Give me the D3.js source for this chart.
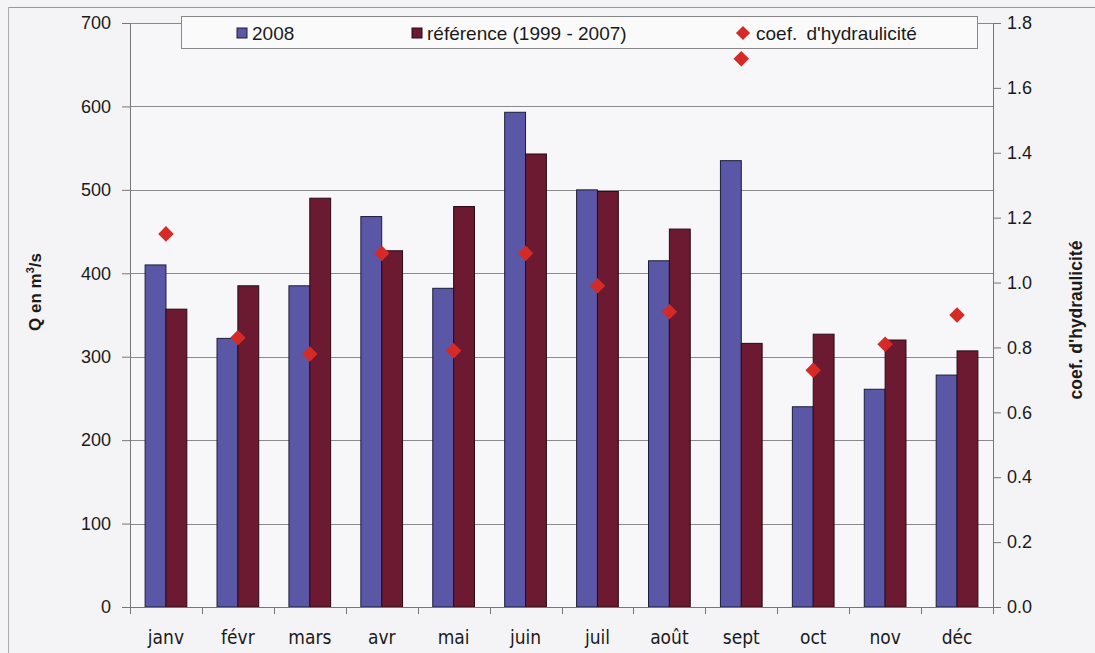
<!DOCTYPE html>
<html><head><meta charset="utf-8">
<script src="https://cdn.jsdelivr.net/npm/d3@7"></script>
<style>
body{margin:0;background:#f4f4f6;}
svg{display:block;font-family:"Liberation Sans",Arial,sans-serif;}
</style></head>
<body><svg id="c" width="1095" height="653"></svg>
<script>
const months = ["janv","févr","mars","avr","mai","juin","juil","août","sept","oct","nov","déc"];
const q2008 = [410,322,385,468,382,593,500,415,535,240,261,278];
const qRef = [357,385,490,427,480,543,498,453,316,327,320,307];
const coef = [1.15,0.83,0.78,1.09,0.79,1.09,0.99,0.91,1.69,0.73,0.81,0.90];
const leftTicks = [0,100,200,300,400,500,600,700];
const rightTicks = [0,0.2,0.4,0.6,0.8,1.0,1.2,1.4,1.6,1.8];
const seriesNames = ["2008","référence (1999 - 2007)","coef. d'hydraulicité"];

const svg = d3.select("#c");
const L=130, R=993, T=23, B=607;
svg.append("rect").attr("width",1095).attr("height",653).attr("fill","#f4f4f6");
svg.append("line").attr("x1",8).attr("x2",1095).attr("y1",7.5).attr("y2",7.5).attr("stroke","#999");
svg.append("line").attr("x1",8.5).attr("x2",8.5).attr("y1",7).attr("y2",653).attr("stroke","#aaa");

const x = d3.scaleBand().domain(months).range([L,R]).paddingInner(0.42).paddingOuter(0.21);
const xs = d3.scaleBand().domain([0,1]).range([0,x.bandwidth()]);
const y = d3.scaleLinear().domain([0,700]).range([B,T]);
const y2 = d3.scaleLinear().domain([0,1.8]).range([B,T]);

svg.append("rect").attr("x",L).attr("y",T).attr("width",R-L).attr("height",B-T).attr("fill","#f7f7f9");
svg.append("g").selectAll("line").data(leftTicks.filter(d=>d>0)).join("line")
  .attr("x1",L).attr("x2",R).attr("y1",d=>Math.round(y(d))+0.5).attr("y2",d=>Math.round(y(d))+0.5)
  .attr("stroke","#8a8a8a").attr("stroke-width",1);

const g = svg.append("g");
g.selectAll(".b1").data(months).join("rect").attr("class","b1")
  .attr("x",d=>x(d)).attr("width",xs.bandwidth())
  .attr("y",(d,i)=>y(q2008[i])).attr("height",(d,i)=>B-y(q2008[i]))
  .attr("fill","#5a58a6").attr("stroke","#1c1c3a").attr("stroke-width",1);
g.selectAll(".b2").data(months).join("rect").attr("class","b2")
  .attr("x",d=>x(d)+xs.bandwidth()).attr("width",xs.bandwidth())
  .attr("y",(d,i)=>y(qRef[i])).attr("height",(d,i)=>B-y(qRef[i]))
  .attr("fill","#6b1a32").attr("stroke","#2a0a12").attr("stroke-width",1);

const dsz = 11;
svg.append("g").selectAll("rect").data(months).join("rect")
  .attr("x",-dsz/2).attr("y",-dsz/2).attr("width",dsz).attr("height",dsz)
  .attr("transform",(d,i)=>`translate(${x(d)+x.bandwidth()/2},${y2(coef[i])}) rotate(45)`)
  .attr("fill","#d62a27");

const axL = svg.append("g").attr("transform",`translate(${L},0)`)
  .call(d3.axisLeft(y).tickValues(leftTicks).tickSize(8).tickPadding(11).tickFormat(d3.format("d")));
const axR = svg.append("g").attr("transform",`translate(${R},0)`)
  .call(d3.axisRight(y2).tickValues(rightTicks).tickSize(8).tickPadding(6).tickFormat(d3.format(".1f")));
const axB = svg.append("g").attr("transform",`translate(0,${B})`)
  .call(d3.axisBottom(x).tickSize(0).tickPadding(24));
[axL,axR,axB].forEach(a=>{
  a.selectAll("path").attr("stroke","#777");
  a.selectAll("line").attr("stroke","#777");
  a.selectAll("text").attr("fill","#1a1a1a").attr("font-size",18);
});
axB.selectAll("text").attr("font-size",19).attr("font-family","'Liberation Sans Narrow','DejaVu Sans Condensed',sans-serif");
axB.select("path").attr("d",`M${L},0.5H${R}`);
const bounds = months.map(m=>x(m)-x.step()*x.paddingInner()/2);
bounds.push(R);
axB.selectAll(".bt").data(bounds).join("line").attr("class","bt")
  .attr("x1",d=>Math.round(d)+0.5).attr("x2",d=>Math.round(d)+0.5).attr("y1",0).attr("y2",7).attr("stroke","#777");

svg.append("text").attr("transform","translate(41,292) rotate(-90)").attr("text-anchor","middle")
  .attr("font-size",17).attr("font-weight","bold").attr("fill","#1a1a1a")
  .call(t=>{t.append("tspan").text("Q en m");t.append("tspan").attr("font-size",11).attr("dy",-7).text("3");t.append("tspan").attr("dy",7).text("/s");});
svg.append("text").attr("transform","translate(1082,320) rotate(-90)").attr("text-anchor","middle")
  .attr("font-size",17.5).attr("font-weight","bold").attr("fill","#1a1a1a").text(seriesNames[2]);

const lg = svg.append("g");
lg.append("rect").attr("x",181.5).attr("y",16.5).attr("width",796).attr("height",32).attr("fill","#fafafa").attr("stroke","#888");
const lx = [237,412,743];
lg.append("rect").attr("x",lx[0]).attr("y",28).attr("width",10).attr("height",10).attr("fill","#5a58a6").attr("stroke","#1c1c3a");
lg.append("rect").attr("x",lx[1]).attr("y",28).attr("width",10).attr("height",10).attr("fill","#6b1a32").attr("stroke","#2a0a12");
lg.append("rect").attr("x",-5).attr("y",-5).attr("width",10).attr("height",10)
  .attr("transform",`translate(${lx[2]},33) rotate(45)`).attr("fill","#d62a27");
lg.selectAll("text").data(seriesNames).join("text")
  .attr("x",(d,i)=>lx[i]+(i==2?13:15)).attr("y",40).attr("font-size",19)
  .attr("word-spacing",(d,i)=>i==2?4:0).attr("fill","#1a1a1a").text(d=>d);
</script></body></html>
